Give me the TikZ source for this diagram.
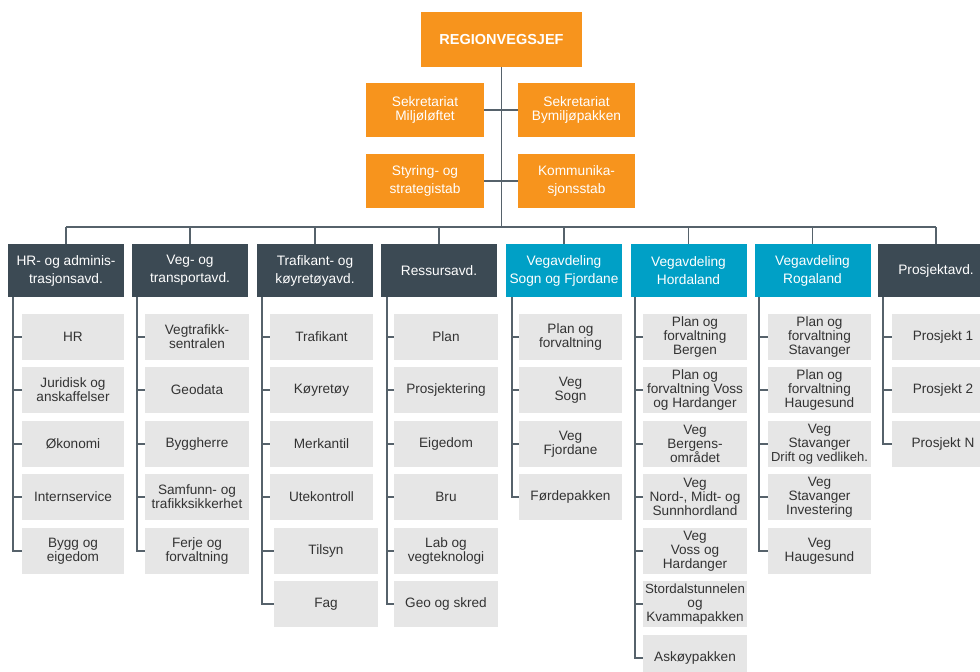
\documentclass[tikz,border=0pt]{standalone}
\usepackage{fontspec}
\setmainfont{Liberation Sans}
\definecolor{orgfill}{HTML}{F7941D}
\definecolor{slatefill}{HTML}{3C4A54}
\definecolor{bluefill}{HTML}{00A0C6}
\definecolor{subfill}{HTML}{E6E6E6}
\definecolor{subtext}{HTML}{333333}
\definecolor{linecol}{HTML}{56626B}
\newcommand\ftop{\fontsize{14.5}{17}\selectfont\bfseries}
\newcommand\fsek{\fontsize{13.7}{14.5}\selectfont}
\newcommand\fdept{\fontsize{13.7}{18}\selectfont}
\newcommand\fsubitem{\fontsize{13.6}{14}\selectfont}
\begin{document}
\begin{tikzpicture}[x=1pt,y=-1pt,
  box/.style={rectangle,inner sep=0pt,align=center},
  topbox/.style={box,fill=orgfill,text=white},
  deptbox/.style={box,fill=slatefill,text=white,font=\fdept,minimum width=116pt,minimum height=53pt},
  bluebox/.style={deptbox,fill=bluefill},
  subbox/.style={box,fill=subfill,text=subtext,font=\fsubitem,minimum height=46pt},
  link/.style={draw=linecol,line width=1.3pt}]
\useasboundingbox (0,0) rectangle (980,672);
\clip (0,0) rectangle (980,672);
% top
\node[topbox,font=\ftop,minimum width=161pt,minimum height=55pt] (rvj) at (501.5,39.5) {REGIONVEGSJEF};
\node[topbox,font=\fsek,minimum width=118pt,minimum height=54pt] (sm) at (425,110) {Sekretariat\\Miljøløftet};
\node[topbox,font=\fsek,minimum width=117pt,minimum height=54pt] (sb) at (576.5,110) {Sekretariat\\Bymiljøpakken};
\node[topbox,font=\fdept,minimum width=118pt,minimum height=54pt] (ss) at (425,181) {Styring- og\\strategistab};
\node[topbox,font=\fdept,minimum width=117pt,minimum height=54pt] (ks) at (576.5,181) {Kommunika-\\sjonsstab};
% departments
\node[deptbox] (d1) at (66,270.5) {HR- og adminis-\\trasjonsavd.};
\node[deptbox] (d2) at (190,270.5) {Veg- og\\transportavd.};
\node[deptbox] (d3) at (315,270.5) {Trafikant- og\\køyretøyavd.};
\node[deptbox] (d4) at (439,270.5) {Ressursavd.};
\node[bluebox] (d5) at (564,270.5) {Vegavdeling\\Sogn og Fjordane};
\node[bluebox] (d6) at (688.5,270.5) {Vegavdeling\\Hordaland};
\node[bluebox] (d7) at (812.5,270.5) {Vegavdeling\\Rogaland};
\node[deptbox] (d8) at (936,270.5) {Prosjektavd.};
% bus
\coordinate (busm) at (501.5,227);
\coordinate (busl) at (66,227);
\coordinate (busr) at (936,227);
\draw[link] (rvj.south) -- (busm);
\draw[link] (sm.east) -- (sb.west);
\draw[link] (ss.east) -- (ks.west);
\draw[link] (busl) -- (busr);
\foreach \i in {1,...,8} {\draw[link] (d\i.north |- busm) -- (d\i.north);}
% column 1
\node[subbox,minimum width=102pt] (a1) at (73,337) {HR};
\node[subbox,minimum width=102pt] (a2) at (73,390) {Juridisk og\\anskaffelser};
\node[subbox,minimum width=102pt] (a3) at (73,444) {Økonomi};
\node[subbox,minimum width=102pt] (a4) at (73,497) {Internservice};
\node[subbox,minimum width=102pt] (a5) at (73,551) {Bygg og\\eigedom};
% column 2
\node[subbox,minimum width=104pt] (b1) at (197,337) {Vegtrafikk-\\sentralen};
\node[subbox,minimum width=104pt] (b2) at (197,390) {Geodata};
\node[subbox,minimum width=104pt] (b3) at (197,444) {Byggherre};
\node[subbox,minimum width=104pt] (b4) at (197,497) {Samfunn- og\\trafikksikkerhet};
\node[subbox,minimum width=104pt] (b5) at (197,551) {Ferje og\\forvaltning};
% column 3
\node[subbox,minimum width=103pt] (c1) at (321.5,337) {Trafikant};
\node[subbox,minimum width=103pt] (c2) at (321.5,390) {Køyretøy};
\node[subbox,minimum width=103pt] (c3) at (321.5,444) {Merkantil};
\node[subbox,minimum width=103pt] (c4) at (321.5,497) {Utekontroll};
\node[subbox,minimum width=104pt] (c5) at (326,551) {Tilsyn};
\node[subbox,minimum width=104pt] (c6) at (326,604) {Fag};
% column 4
\node[subbox,minimum width=104pt] (e1) at (446,337) {Plan};
\node[subbox,minimum width=104pt] (e2) at (446,390) {Prosjektering};
\node[subbox,minimum width=104pt] (e3) at (446,444) {Eigedom};
\node[subbox,minimum width=104pt] (e4) at (446,497) {Bru};
\node[subbox,minimum width=104pt] (e5) at (446,551) {Lab og\\vegteknologi};
\node[subbox,minimum width=104pt] (e6) at (446,604) {Geo og skred};
% column 5
\node[subbox,minimum width=103pt] (f1) at (570.5,337) {Plan og\\forvaltning};
\node[subbox,minimum width=103pt] (f2) at (570.5,390) {Veg\\Sogn};
\node[subbox,minimum width=103pt] (f3) at (570.5,444) {Veg\\Fjordane};
\node[subbox,minimum width=103pt] (f4) at (570.5,497) {Førdepakken};
% column 6
\node[subbox,minimum width=104pt] (g1) at (695,337) {Plan og\\forvaltning\\Bergen};
\node[subbox,minimum width=104pt] (g2) at (695,390) {Plan og\\forvaltning Voss\\og Hardanger};
\node[subbox,minimum width=104pt] (g3) at (695,444) {Veg\\Bergens-\\området};
\node[subbox,minimum width=104pt] (g4) at (695,497) {Veg\\Nord-, Midt- og\\Sunnhordland};
\node[subbox,minimum width=104pt] (g5) at (695,551) {Veg\\Voss og\\Hardanger};
\node[subbox,minimum width=104pt] (g6) at (695,604) {{\fontsize{13.3}{14}\selectfont Stordalstunnelen}\\og\\Kvammapakken};
\node[subbox,minimum width=104pt] (g7) at (695,658) {Askøypakken};
% column 7
\node[subbox,minimum width=103pt] (h1) at (819.5,337) {Plan og\\forvaltning\\Stavanger};
\node[subbox,minimum width=103pt] (h2) at (819.5,390) {Plan og\\forvaltning\\Haugesund};
\node[subbox,minimum width=103pt] (h3) at (819.5,444) {Veg\\Stavanger\\{\fontsize{13}{14}\selectfont Drift og vedlikeh.}};
\node[subbox,minimum width=103pt] (h4) at (819.5,497) {Veg\\Stavanger\\Investering};
\node[subbox,minimum width=103pt] (h5) at (819.5,551) {Veg\\Haugesund};
% column 8
\node[subbox,minimum width=102pt] (k1) at (943,337) {Prosjekt 1};
\node[subbox,minimum width=102pt] (k2) at (943,390) {Prosjekt 2};
\node[subbox,minimum width=102pt] (k3) at (943,444) {Prosjekt N};
% column connectors
\coordinate (x1) at (13,297);
\coordinate (x2) at (137,297);
\coordinate (x3) at (262,297);
\coordinate (x4) at (387,297);
\coordinate (x5) at (512,297);
\coordinate (x6) at (635,297);
\coordinate (x7) at (759,297);
\coordinate (x8) at (883,297);
\draw[link] (x1) |- (a5.west);
\foreach \n in {a1,a2,a3,a4} {\draw[link] (\n.west -| x1) -- (\n.west);}
\draw[link] (x2) |- (b5.west);
\foreach \n in {b1,b2,b3,b4} {\draw[link] (\n.west -| x2) -- (\n.west);}
\draw[link] (x3) |- (c6.west);
\foreach \n in {c1,c2,c3,c4,c5} {\draw[link] (\n.west -| x3) -- (\n.west);}
\draw[link] (x4) |- (e6.west);
\foreach \n in {e1,e2,e3,e4,e5} {\draw[link] (\n.west -| x4) -- (\n.west);}
\draw[link] (x5) |- (f4.west);
\foreach \n in {f1,f2,f3} {\draw[link] (\n.west -| x5) -- (\n.west);}
\draw[link] (x6) |- (g7.west);
\foreach \n in {g1,g2,g3,g4,g5,g6} {\draw[link] (\n.west -| x6) -- (\n.west);}
\draw[link] (x7) |- (h5.west);
\foreach \n in {h1,h2,h3,h4} {\draw[link] (\n.west -| x7) -- (\n.west);}
\draw[link] (x8) |- (k3.west);
\foreach \n in {k1,k2} {\draw[link] (\n.west -| x8) -- (\n.west);}
\end{tikzpicture}
\end{document}
